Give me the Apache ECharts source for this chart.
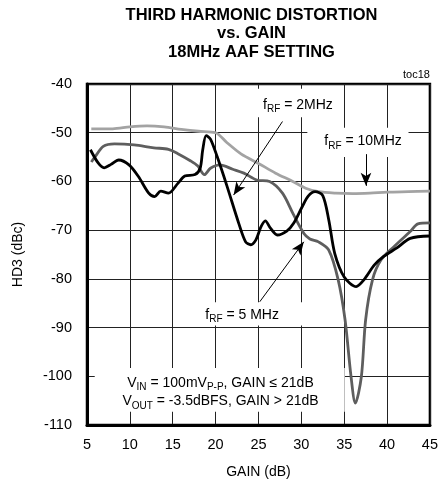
<!DOCTYPE html>
<html><head><meta charset="utf-8">
<script src="https://cdn.jsdelivr.net/npm/echarts@6/dist/echarts.min.js"></script>
<style>html,body{margin:0;padding:0;background:#fff}#c{width:441px;height:489px}</style>
</head><body><div id="c"></div>
<script>
// ---- data ----
const titleLines = ['THIRD HARMONIC DISTORTION', 'vs. GAIN', '18MHz AAF SETTING'];
const xTickLabels = [5, 10, 15, 20, 25, 30, 35, 40, 45];
const yTickLabels = [-110, -100, -90, -80, -70, -60, -50, -40];

const gain2MHz = [5.4, 6.3, 7.0, 7.8, 8.7, 9.9, 11.0, 12.2, 12.9, 13.6, 14.5, 15.6, 16.4, 17.6, 18.2, 18.5, 18.9, 19.4, 20.2, 21.3, 22.7, 23.5, 24.1, 24.7, 25.3, 25.8, 26.4, 27.2, 28.3, 29.1, 30.1, 30.8, 31.6, 32.5, 33.2, 33.9, 35.0, 36.4, 37.3, 38.5, 39.6, 41.1, 42.7, 45.0];
const hd3_2MHz = [-53.5, -56.2, -57.2, -56.5, -55.6, -56.6, -59.0, -62.4, -63.1, -62.0, -62.4, -60.4, -58.9, -58.6, -57.3, -53.5, -50.6, -51.3, -55.0, -60.8, -68.6, -72.4, -73.0, -72.0, -69.3, -68.1, -69.6, -71.0, -70.2, -68.6, -65.2, -63.0, -62.1, -62.9, -67.9, -74.8, -79.6, -81.6, -80.2, -77.2, -75.4, -73.7, -71.7, -71.2];

const gain5MHz = [5.5, 6.0, 6.9, 8.2, 10.5, 12.8, 14.5, 15.6, 17.1, 17.9, 18.7, 19.4, 20.5, 22.0, 23.3, 24.8, 26.3, 27.8, 29.0, 30.3, 31.0, 32.0, 33.2, 34.3, 35.1, 35.8, 36.3, 37.0, 37.5, 38.3, 39.3, 40.8, 42.7, 43.6, 45.0];
const hd3_5MHz = [-56.0, -54.8, -52.8, -52.3, -52.5, -53.1, -53.4, -54.3, -55.8, -56.8, -58.6, -57.3, -56.6, -57.5, -58.3, -59.7, -60.0, -62.4, -66.5, -70.7, -71.8, -72.4, -74.1, -80.2, -88.4, -100.1, -105.5, -100.1, -88.4, -80.2, -76.1, -73.4, -70.3, -68.7, -68.5];

const gain10MHz = [5.5, 8, 10, 12, 14, 16, 18, 20, 21.3, 23, 25, 27, 29, 30.5, 32, 34, 36, 38, 40, 42.5, 45];
const hd3_10MHz = [-49.2, -49.2, -48.8, -48.6, -48.8, -49.3, -49.7, -50.0, -52.0, -54.4, -56.3, -58.3, -60.0, -61.4, -62.1, -62.4, -62.5, -62.4, -62.2, -62.1, -62.0];

// ---- annotation layout (data coordinates) ----
const labelBoxes = [
  [[24.2, -41.0], [33.9, -46.8]],
  [[30.7, -49.0], [42.5, -55.0]],
  [[18.5, -84.8], [30.5, -89.6]],
  [[5.9, -98.3], [35.06, -107.3]]
];
const arrows = [
  [[27.8, -47.7], [22.1, -62.8]],
  [[37.54, -54.4], [37.54, -60.9]],
  [[25.15, -84.7], [30.29, -72.4]]
];
const labels = [
  {at: [29.6, -44.25], parts: [['f', 'a'], ['RF', 's'], [' = 2MHz', 'a']]},
  {at: [37.2, -51.8], parts: [['f', 'a'], ['RF', 's'], [' = 10MHz', 'a']]},
  {at: [23.09, -87.4], parts: [['f', 'a'], ['RF', 's'], [' = 5 MHz', 'a']]},
  {at: [20.57, -101.4], parts: [['V', 'a'], ['IN', 's'], [' = 100mV', 'a'], ['P-P', 's'], [', GAIN ≤ 21dB', 'a']]},
  {at: [20.57, -105.2], parts: [['V', 'a'], ['OUT', 's'], [' = -3.5dBFS, GAIN > 21dB', 'a']]}
];

const FONT = '"Liberation Sans", Arial, sans-serif';
const zip = (xs, ys) => xs.map((x, i) => [x, ys[i]]);

const chart = echarts.init(document.getElementById('c'), null, {renderer: 'canvas'});
const option = {
  animation: false,
  backgroundColor: '#fff',
  grid: {left: 87, right: 4, top: 84, bottom: 64, show: true, borderColor: '#000', borderWidth: 2.5, backgroundColor: 'transparent'},
  xAxis: {
    type: 'value', min: 5, max: 45, interval: 5,
    name: 'GAIN (dB)', nameLocation: 'middle', nameGap: 40,
    nameTextStyle: {fontFamily: FONT, fontSize: 14, color: '#000'},
    axisLine: {show: true, lineStyle: {color: '#000', width: 3}},
    axisTick: {show: false},
    axisLabel: {fontFamily: FONT, fontSize: 14.5, color: '#000', margin: 12,
      formatter: v => xTickLabels.includes(v) ? String(v) : ''},
    splitLine: {show: true, lineStyle: {color: '#222', width: 1}}
  },
  yAxis: {
    type: 'value', min: -110, max: -40, interval: 10,
    name: 'HD3 (dBc)', nameLocation: 'middle', nameGap: 62, nameRotate: 90,
    nameTextStyle: {fontFamily: FONT, fontSize: 14, color: '#000'},
    axisLine: {show: true, lineStyle: {color: '#000', width: 3}},
    axisTick: {show: false},
    axisLabel: {fontFamily: FONT, fontSize: 14.5, color: '#000', margin: 15,
      formatter: v => yTickLabels.includes(v) ? String(v) : ''},
    splitLine: {show: true, lineStyle: {color: '#222', width: 1}}
  },
  series: [
    {
      type: 'line', name: 'markers', data: [], z: 2, silent: true,
      markArea: {silent: true, itemStyle: {color: '#fff', borderWidth: 0},
        data: labelBoxes.map(b => [{coord: b[0]}, {coord: b[1]}])},
      markLine: {silent: true, symbol: ['none', 'arrow'], symbolSize: [8, 13],
        lineStyle: {color: '#000', width: 1, type: 'solid'}, label: {show: false},
        data: arrows.map(a => [{coord: a[0]}, {coord: a[1]}])}
    },
    {type: 'line', name: 'fRF = 10MHz', data: zip(gain10MHz, hd3_10MHz), z: 3, smooth: 0.3, showSymbol: false,
      lineStyle: {color: '#a3a3a3', width: 2.8}},
    {type: 'line', name: 'fRF = 5MHz', data: zip(gain5MHz, hd3_5MHz), z: 3, smooth: 0.3, showSymbol: false,
      lineStyle: {color: '#5e5e5e', width: 2.8}},
    {type: 'line', name: 'fRF = 2MHz', data: zip(gain2MHz, hd3_2MHz), z: 3, smooth: 0.3, showSymbol: false,
      lineStyle: {color: '#000', width: 2.8}}
  ]
};
chart.setOption(option);

const rich = {
  a: {fontFamily: FONT, fontSize: 14, color: '#000'},
  s: {fontFamily: FONT, fontSize: 10, color: '#000', padding: [9, 0, 0, 0]}
};
const graphics = [];
titleLines.forEach((t, i) => {
  graphics.push({type: 'text', x: 251.5, y: 15.5 + i * 18.4, z: 10,
    style: {text: t, fontFamily: FONT, fontSize: 16.5, fontWeight: 'bold', fill: '#000', align: 'center', verticalAlign: 'middle'}});
});
graphics.push({type: 'text', x: 416.5, y: 75, z: 10,
  style: {text: 'toc18', fontFamily: FONT, fontSize: 11, fill: '#000', align: 'center', verticalAlign: 'middle'}});
labels.forEach(l => {
  const p = chart.convertToPixel({gridIndex: 0}, l.at);
  graphics.push({type: 'text', x: p[0], y: p[1], z: 10,
    style: {text: l.parts.map(pt => '{' + pt[1] + '|' + pt[0] + '}').join(''), rich: rich,
      align: 'center', verticalAlign: 'middle'}});
});
chart.setOption({graphic: graphics});
</script>
</body></html>
